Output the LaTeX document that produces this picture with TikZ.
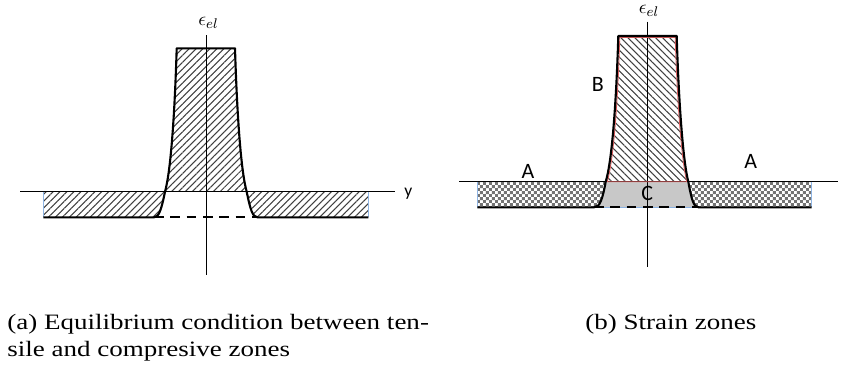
\documentclass[tikz,border=0pt]{standalone}
\usepackage{fontspec}
\setmainfont{Liberation Serif}
\newfontfamily\labelfont{Carlito}
\newfontfamily\capfont[FakeStretch=1.23]{Liberation Serif}
\usetikzlibrary{patterns.meta}
\definecolor{edgeblue}{HTML}{8EB4E3}
\definecolor{zonered}{HTML}{E06060}
\definecolor{zonegray}{HTML}{C8C8C8}
\tikzdeclarepattern{
  name=smallchecks,
  type=uncolored,
  bottom left={(0pt,0pt)},
  top right={(3.4pt,3.4pt)},
  tile size={(3.4pt,3.4pt)},
  code={
    \fill (0pt,0pt) rectangle (1.7pt,1.7pt);
    \fill (1.7pt,1.7pt) rectangle (3.4pt,3.4pt);
  }
}

\begin{document}
\begin{tikzpicture}[x=0.02cm, y=-0.02cm,
    outline/.style={line width=1.2pt, line join=round},
    axisline/.style={line width=0.5pt},
    edge/.style={line width=0.4pt, draw=edgeblue},
    hatchA/.style={pattern={Lines[angle=45,distance=2.8pt,line width=0.6pt]}, pattern color=black!75},
    hatchB/.style={pattern={Lines[angle=-45,distance=2.8pt,line width=0.6pt]}, pattern color=black!75},
    checks/.style={pattern=smallchecks, pattern color=black!55},
    zoneC/.style={fill=zonegray},
    letter/.style={font=\labelfont\fontsize{12.5}{14}\selectfont, anchor=base, inner sep=0pt},
    caption/.style={font=\capfont\fontsize{12.5}{14}\selectfont, anchor=base west, inner sep=0pt}]
    \useasboundingbox (0,0) rectangle (849,370);

    % First diagram
    \coordinate (aTL) at (176.7,48.3);
    \coordinate (aTR) at (235,48.3);
    \coordinate (aBL) at (165,191.7);
    \coordinate (aBR) at (246.7,191.7);
    \coordinate (aCL) at (154,217.3);
    \coordinate (aCR) at (257.5,217.3);
    \coordinate (aSL) at (43.3,191.7);
    \coordinate (aSLb) at (43.3,217.3);
    \coordinate (aSR) at (368.3,191.7);
    \coordinate (aSRb) at (368.3,217.3);

    \fill[hatchA] (aTL) .. controls (174.5,120) and (170.5,172) .. (aBL) -- (aBR)
        .. controls (241.2,172) and (237.2,120) .. (aTR) -- cycle;
    \fill[hatchA] (aSL) -- (aBL) .. controls (161.5,209) and (159,217.3) .. (aCL) -- (aSLb) -- cycle;
    \fill[hatchA] (aBR) -- (aSR) -- (aSRb) -- (aCR) .. controls (252.5,217.3) and (250.2,209) .. (aBR) -- cycle;

    \draw[axisline] (206.7,35) -- (206.7,275);
    \draw[axisline] (20,191.7) -- (395,191.7);
    \draw[edge] (aSL) -- (aSLb);
    \draw[edge] (aSR) -- (aSRb);

    \draw[outline] (aSLb) -- (aCL) .. controls (159,217.3) and (161.5,209) .. (aBL)
        .. controls (170.5,172) and (174.5,120) .. (aTL) -- (aTR)
        .. controls (237.2,120) and (241.2,172) .. (aBR)
        .. controls (250.2,209) and (252.5,217.3) .. (aCR) -- (aSRb);
    \draw[outline, dash pattern=on 5.5pt off 3.8pt] (aCL) -- (aCR);

    \node[font=\fontsize{11}{13}\selectfont, anchor=base, inner sep=0pt] (aEps) at (208.5,25) {$\epsilon_{el}$};
    \node[font=\labelfont\fontsize{10}{12}\selectfont, anchor=base, inner sep=0pt] (yLabel) at (408.3,196) {y};

    % Second diagram
    \coordinate (bTL) at (618.3,36);
    \coordinate (bTR) at (676.7,36);
    \coordinate (bBL) at (605.7,181.7);
    \coordinate (bBR) at (688.3,181.7);
    \coordinate (bCL) at (594,207.3);
    \coordinate (bCR) at (698.5,207.3);
    \coordinate (bSL) at (477.3,181.7);
    \coordinate (bSLb) at (477.3,207.3);
    \coordinate (bSR) at (811.7,181.7);
    \coordinate (bSRb) at (811.7,207.3);

    \fill[hatchB] (bTL) .. controls (616,110) and (611.5,163) .. (bBL) -- (bBR)
        .. controls (683.5,163) and (679,110) .. (bTR) -- cycle;
    \fill[checks] (bSL) -- (bBL) .. controls (602.5,199) and (600,207.3) .. (bCL) -- (bSLb) -- cycle;
    \fill[checks] (bBR) -- (bSR) -- (bSRb) -- (bCR) .. controls (693.5,207.3) and (691.5,199) .. (bBR) -- cycle;
    \fill[zoneC] (bBL) -- (bBR) .. controls (691.5,199) and (693.5,207.3) .. (bCR) -- (bCL)
        .. controls (600,207.3) and (602.5,199) .. (bBL) -- cycle;

    \draw[axisline] (647.3,21.7) -- (647.3,266.7);
    \draw[axisline] (459.3,181.7) -- (838.3,181.7);
    \draw[edge] (bSL) -- (bSLb);
    \draw[edge] (bSR) -- (bSRb);
    \draw[edge] (bCL) -- (bCR);
    \draw[zonered, line width=0.5pt] (619.8,37.5) .. controls (617.5,110) and (613,163) .. (607.2,181.7)
        -- (686.8,181.7) .. controls (682,163) and (677.5,110) .. (675.2,37.5) -- cycle;

    \draw[outline] (bSLb) -- (bCL) .. controls (600,207.3) and (602.5,199) .. (bBL)
        .. controls (611.5,163) and (616,110) .. (bTL) -- (bTR)
        .. controls (679,110) and (683.5,163) .. (bBR)
        .. controls (691.5,199) and (693.5,207.3) .. (bCR) -- (bSRb);
    \draw[outline, dash pattern=on 5.5pt off 3.8pt] (bCL) -- (bCR);

    \node[font=\fontsize{11}{13}\selectfont, anchor=base, inner sep=0pt] (bEps) at (649,13.5) {$\epsilon_{el}$};
    \node[letter] (zoneAl) at (528,178.3) {A};
    \node[letter] (zoneAr) at (750.8,168.5) {A};
    \node[letter] (zoneBl) at (597.8,91.7) {B};
    \node[letter] (zoneCl) at (647.2,200.7) {C};

    % Captions
    \node[caption] (capA1) at (7,329) {(a) Equilibrium condition between ten-};
    \node[caption] (capA2) at (7,356) {sile and compresive zones};
    \node[caption] (capB) at (585,329) {(b) Strain zones};
\end{tikzpicture}
\end{document}
